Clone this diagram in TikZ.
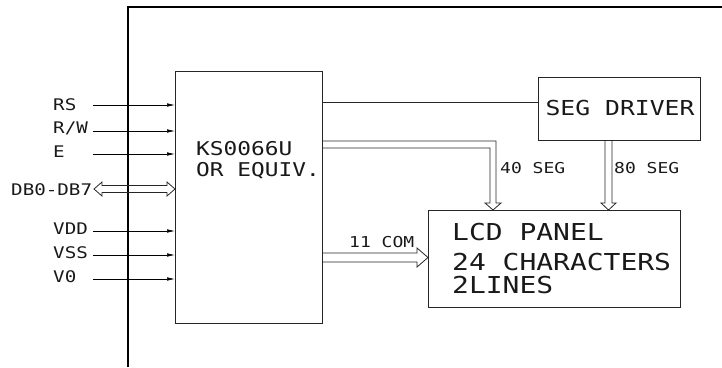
\documentclass[tikz,border=0pt]{standalone}
\usepackage{fontspec}
\newfontfamily\cad[FakeStretch=1.2]{DejaVu Sans Mono}
\usetikzlibrary{arrows.meta}
\begin{document}
\begin{tikzpicture}[x=1pt,y=-1pt,
  box/.style={draw=black!85,line width=0.9pt,inner sep=0pt,outer sep=0pt,anchor=north west},
  frameline/.style={line width=1.3pt,black},
  sig/.style={line width=0.6pt,-{Latex[length=8pt,width=3.5pt]}},
  bus/.style={line width=0.8pt,black!85,line join=miter},
  lbl/.style={inner sep=0pt,anchor=base west,text=black!90,font=\cad\fontsize{16}{16}\selectfont},
  small/.style={inner sep=0pt,anchor=base west,text=black!90,font=\cad\fontsize{15}{15}\selectfont},
  kstext/.style={inner sep=0pt,anchor=base west,text=black!90,font=\cad\fontsize{19}{19}\selectfont},
  segtext/.style={inner sep=0pt,anchor=base,text=black!90,font=\cad\fontsize{20.6}{20.6}\selectfont},
  lcdtext/.style={inner sep=0pt,anchor=base west,text=black!90,font=\cad\fontsize{23.3}{23.3}\selectfont}]
\useasboundingbox (0,0) rectangle (722,367);
% frame
\draw[frameline] (128,367) -- (128,7) -- (722,7);
% boxes
\node[box,minimum width=147pt,minimum height=252pt] (ks) at (175,71) {};
\node[box,minimum width=162pt,minimum height=63pt] (seg) at (538,77) {};
\node[box,minimum width=252pt,minimum height=97pt] (lcd) at (428,210) {};
% box texts
\node[kstext] (ks1) at (196,155) {KS0066U};
\node[kstext] (ks2) at (196,176) {OR EQUIV.};
\node[segtext] (segt) at (620,115) {SEG DRIVER};
\node[lcdtext] (lcd1) at (452,240) {LCD PANEL};
\node[lcdtext] (lcd2) at (452,270) {24 CHARACTERS};
\node[lcdtext] (lcd3) at (452,293) {2LINES};
% left labels
\node[lbl] (rs) at (53,110) {RS};
\node[lbl] (rw) at (53,133) {R/W};
\node[lbl] (e) at (53,157) {E};
\node[lbl] (db) at (11,195) {DB0-DB7};
\node[lbl] (vdd) at (53,234) {VDD};
\node[lbl] (vss) at (53,258) {VSS};
\node[lbl] (v0) at (53,282) {V0};
% left signal starts
\coordinate (rsS) at (93,105);
\coordinate (rwS) at (93,131);
\coordinate (eS) at (93,154);
\coordinate (vddS) at (93,231);
\coordinate (vssS) at (93,255);
\coordinate (v0S) at (93,279);
\draw[sig] (rsS) -- (rsS -| ks.west);
\draw[sig] (rwS) -- (rwS -| ks.west);
\draw[sig] (eS) -- (eS -| ks.west);
\draw[sig] (vddS) -- (vddS -| ks.west);
\draw[sig] (vssS) -- (vssS -| ks.west);
\draw[sig] (v0S) -- (v0S -| ks.west);
% DB bus double hollow arrow
\coordinate (dbS) at (94,189);
\coordinate (dbE) at (ks.west |- dbS);
\draw[bus] (dbS) -- (102,182) -- (102,185.5) -- (167,185.5) -- (167,182) -- (dbE)
  -- (167,196) -- (167,192.5) -- (102,192.5) -- (102,196) -- cycle;
% KS to SEG DRIVER
\draw[bus] (ks.east |- 0,102) -- (seg.west |- 0,102);
% 40 SEG bus
\draw[bus] (ks.east |- 0,141) -- (496,141) -- (496,203) -- (501,203) -- (493,210) -- (485,203) -- (490,203) -- (490,148) -- (ks.east |- 0,148);
\node[small] (l40) at (500,173) {40 SEG};
% 80 SEG bus
\draw[bus] (605,140) -- (605,203) -- (601,203) -- (608.5,210) -- (616,203) -- (612,203) -- (612,140);
\node[small] (l80) at (614,173) {80 SEG};
% 11 COM bus
\draw[bus] (ks.east |- 0,253) -- (417,253) -- (417,248) -- (lcd.west |- 0,257.5) -- (417,267) -- (417,262) -- (ks.east |- 0,262);
\node[small] (l11) at (349,247) {11 COM};
\end{tikzpicture}
\end{document}
